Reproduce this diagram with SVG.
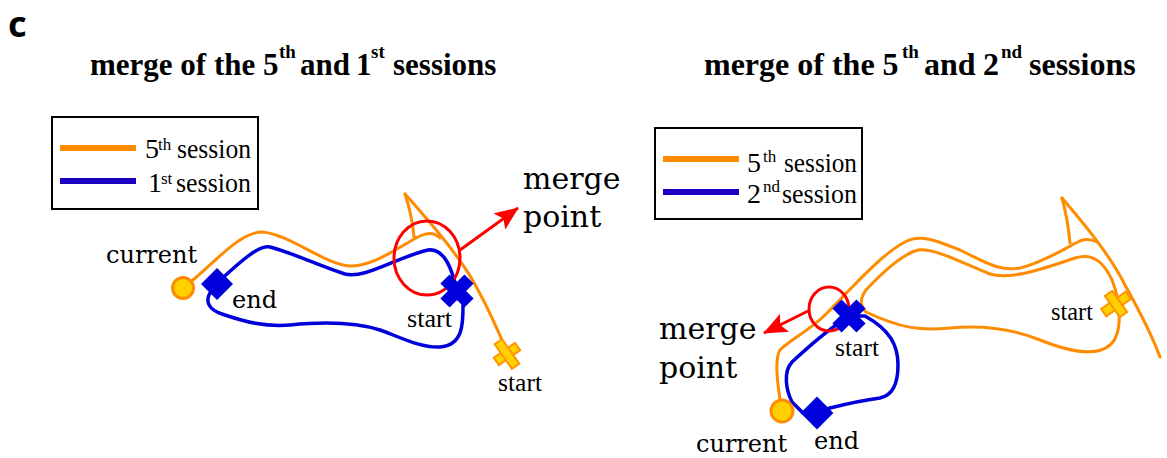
<svg xmlns="http://www.w3.org/2000/svg" width="1167" height="458" viewBox="0 0 1167 458">
<style>
.title{font-family:"Liberation Serif",serif;font-weight:bold;fill:#000}
.leg{font-family:"Liberation Serif",serif;fill:#000}
.lbl{font-family:"DejaVu Serif",serif;fill:#000}
.cond{font-family:"Liberation Serif",serif;fill:#000}
.box{fill:#fff;stroke:#000;stroke-width:2}
.o{fill:none;stroke:#FF8C00;stroke-width:3;stroke-linecap:round;stroke-linejoin:round}
.b{fill:none;stroke:#0000DD;stroke-width:3.5;stroke-linecap:round;stroke-linejoin:round}
.red{fill:none;stroke:#FF0000;stroke-width:3}
.cur{fill:#FFD000;stroke:#FF8C00;stroke-width:3}
.bm{fill:#0000DD}
.om{fill:#FFD000;stroke:#FF9500;stroke-width:2}
</style>
<defs>
<marker id="ah" markerWidth="24" markerHeight="20" refX="23" refY="10" orient="auto" markerUnits="userSpaceOnUse" viewBox="0 0 24 20">
<path d="M0,0 L24,10 L0,20 L5,10 Z" fill="#FF0000"/>
</marker>
<g id="bx"><rect x="-17" y="-6.5" width="34" height="13" transform="rotate(45)"/><rect x="-17" y="-6.5" width="34" height="13" transform="rotate(-45)"/></g>
</defs>

<text x="8" y="37" style="font-family:'Noto Sans',sans-serif;font-weight:bold;font-size:36px">c</text>

<g id="title1" class="title">
<text x="90" y="75" font-size="31">merge of the 5</text>
<text x="279" y="58" font-size="19">th</text>
<text x="300" y="75" font-size="31">and</text>
<text x="356" y="75" font-size="31">1</text>
<text x="371" y="58" font-size="19">st</text>
<text x="393" y="75" font-size="31">sessions</text>
</g>
<g id="title2" class="title">
<text x="704" y="75" font-size="32">merge of the 5</text>
<text x="902" y="58" font-size="19">th</text>
<text x="924" y="75" font-size="32">and</text>
<text x="983" y="75" font-size="32">2</text>
<text x="1001" y="58" font-size="19">nd</text>
<text x="1029" y="75" font-size="32">sessions</text>
</g>

<g id="legend1">
<rect class="box" x="52" y="117" width="206" height="92"/>
<line x1="60" y1="148" x2="136" y2="148" stroke="#FF8C00" stroke-width="6"/>
<line x1="60" y1="181" x2="136" y2="181" stroke="#1A00C0" stroke-width="6"/>
<text class="leg" x="145" y="158" font-size="28">5</text>
<text class="leg" x="158" y="150" font-size="17">th</text>
<text class="leg" x="177" y="158" font-size="28" textLength="74" lengthAdjust="spacingAndGlyphs">session</text>
<text class="leg" x="148" y="192" font-size="28">1</text>
<text class="leg" x="161" y="184" font-size="17">st</text>
<text class="leg" x="176" y="192" font-size="28" textLength="75" lengthAdjust="spacingAndGlyphs">session</text>
</g>

<g id="legend2">
<rect class="box" x="655" y="128" width="207" height="91"/>
<line x1="663" y1="159" x2="739" y2="159" stroke="#FF8C00" stroke-width="6"/>
<line x1="663" y1="192" x2="739" y2="192" stroke="#1A00C0" stroke-width="6"/>
<text class="leg" x="747" y="172" font-size="28">5</text>
<text class="leg" x="763" y="162" font-size="17">th</text>
<text class="leg" x="784" y="172" font-size="28" textLength="73" lengthAdjust="spacingAndGlyphs">session</text>
<text class="leg" x="747" y="203" font-size="28">2</text>
<text class="leg" x="763" y="192" font-size="17">nd</text>
<text class="leg" x="782" y="203" font-size="28" textLength="75" lengthAdjust="spacingAndGlyphs">session</text>
</g>

<g id="connectors">
<path class="o" d="M193,280 C215,262 240,232 262,232 C290,234 325,265 350,266 C375,266 400,246 420,236 C428,232 435,233 440,238"/>
<path class="o" d="M405,194 C428,220 462,258 478,290 C490,312 500,335 507,352"/>
<path class="o" d="M405,194 Q412,215 414,237"/>
<path class="b" d="M217,283 C240,262 258,245 270,247 C290,252 320,266 345,274 C365,279 395,258 428,250 C445,248 452,270 457,290"/>
<path class="b" d="M212,290 C203,302 210,310 222,314 C245,322 265,327 290,325 C320,322 355,322 380,330 C400,337 420,348 440,347 C465,345 463,320 463,300 L457,290"/>
<ellipse class="red" cx="427" cy="258" rx="33" ry="37"/>
<line x1="460" y1="250" x2="518" y2="208" stroke="#FF0000" stroke-width="3" marker-end="url(#ah)"/>
<path class="o" d="M780,400 C778,385 774,360 780,350 C790,340 810,330 825,315 C850,290 880,255 905,242 C920,234 935,240 960,250 C985,262 1000,272 1020,268 C1045,262 1065,248 1080,241 C1088,238 1093,240 1097,242"/>
<path class="o" d="M1062,198 C1085,225 1110,255 1125,285 C1140,312 1152,335 1160,357"/>
<path class="o" d="M1062,198 Q1068,220 1070,243"/>
<path class="o" d="M866,312 C860,306 860,298 866,290 C880,275 900,255 918,250 C935,248 960,262 990,274 C1010,280 1040,270 1075,258 C1095,252 1105,265 1112,280 C1122,305 1122,335 1110,345 C1095,358 1065,350 1040,340 C1010,328 980,325 950,328 C920,331 900,328 866,312 Z"/>
<path class="b" d="M842,321 C825,332 805,350 792,362 C783,372 786,390 792,402 L803,413"/>
<path class="b" d="M817,413 L830,408 C850,403 865,400 880,398 C895,395 898,380 898,365 C898,345 890,330 865,316 L850,316"/>
<ellipse class="red" cx="829" cy="309" rx="20" ry="22"/>
<line x1="808" y1="311" x2="764" y2="333" stroke="#FF0000" stroke-width="3" marker-end="url(#ah)"/>
</g>

<g id="left-current"><circle class="cur" cx="183" cy="288" r="10.5"/><text class="lbl" x="106" y="263" font-size="24">current</text></g>
<g id="left-end"><rect class="bm" x="-11.3" y="-11.3" width="22.6" height="22.6" transform="translate(217,284) rotate(45)"/><text class="lbl" x="232" y="308" font-size="24">end</text></g>
<g id="left-start1"><use href="#bx" class="bm" transform="translate(457,291)"/><text class="cond" x="407" y="327" font-size="26" textLength="45" lengthAdjust="spacingAndGlyphs">start</text></g>
<g id="left-start5"><g class="om" transform="translate(507,354)"><rect x="-13" y="-4.5" width="26" height="9" transform="rotate(-35)"/><rect x="-15" y="-4.5" width="30" height="9" transform="rotate(55)"/></g><text class="cond" x="498" y="391" font-size="26" textLength="44" lengthAdjust="spacingAndGlyphs">start</text></g>
<g id="left-merge"><text class="lbl" x="523" y="189" font-size="30">merge</text><text class="lbl" x="523" y="227" font-size="30">point</text></g>

<g id="right-current"><circle class="cur" cx="782" cy="411" r="11"/><text class="lbl" x="696" y="452" font-size="24">current</text></g>
<g id="right-end"><rect class="bm" x="-11.6" y="-11.6" width="23.2" height="23.2" transform="translate(817,413) rotate(45)"/><text class="lbl" x="814" y="449" font-size="24">end</text></g>
<g id="right-start2"><use href="#bx" class="bm" transform="translate(849,316)"/><text class="cond" x="835" y="356" font-size="26" textLength="44" lengthAdjust="spacingAndGlyphs">start</text></g>
<g id="right-start5"><g class="om" transform="translate(1116,304)"><rect x="-15" y="-4.5" width="30" height="9" transform="rotate(-35)"/><rect x="-13" y="-4.5" width="26" height="9" transform="rotate(55)"/></g><text class="cond" x="1051" y="320" font-size="26" textLength="42" lengthAdjust="spacingAndGlyphs">start</text></g>
<g id="right-merge"><text class="lbl" x="659" y="339" font-size="30">merge</text><text class="lbl" x="659" y="378" font-size="30">point</text></g>
</svg>
